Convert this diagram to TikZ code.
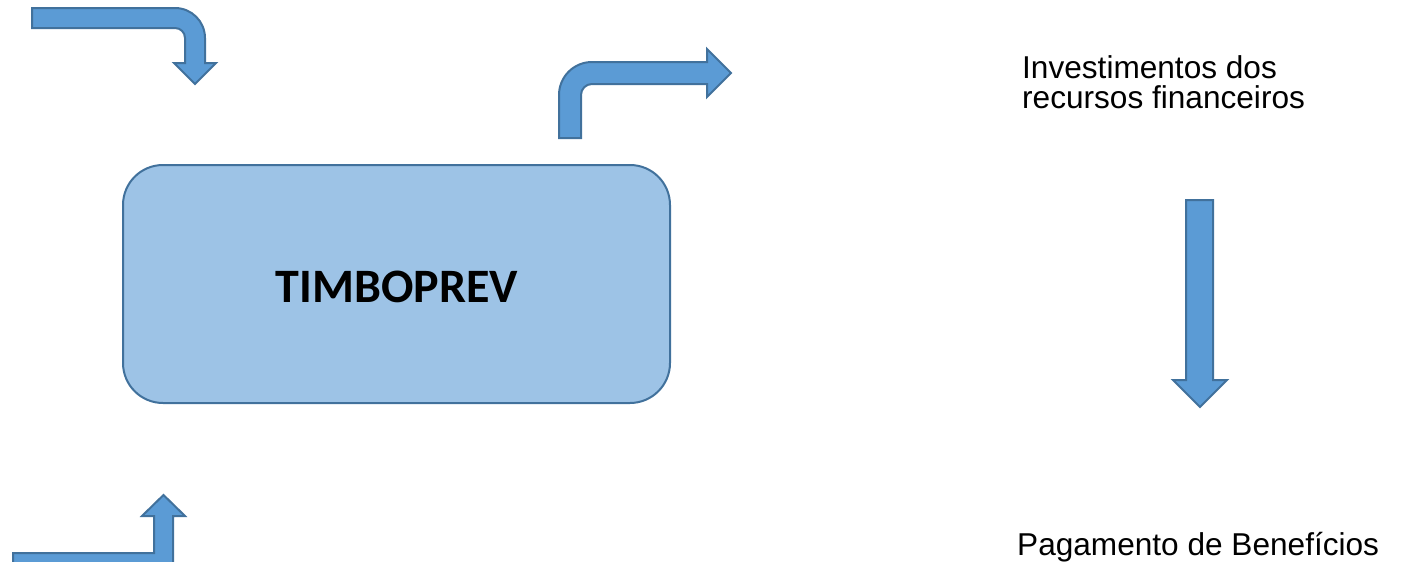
\documentclass[tikz,border=0pt]{standalone}
\usepackage{fontspec}
\setmainfont{Liberation Sans}
\newfontfamily\boxfont{Carlito}
\usepackage{xcolor}
\usepackage{tikz}
\usetikzlibrary{positioning, calc}
\definecolor{arrowblue}{RGB}{91,155,213}
\definecolor{edgeblue}{RGB}{65,113,156}
\definecolor{boxblue}{RGB}{157,195,230}
\tikzstyle{blockarrow} = [fill=arrowblue, draw=edgeblue, line width=2pt, line join=miter]
\tikzstyle{fundbox} = [fill=boxblue, draw=edgeblue, line width=2pt, rounded corners=40pt]
\tikzstyle{label} = [inner sep=0pt, font=\fontsize{31.6}{30}\selectfont]

\begin{document}
\begin{tikzpicture}[x=1pt, y=-1pt]
        \useasboundingbox (0,0) rectangle (1406,562);
        \clip (0,0) rectangle (1406,562);
        % fund box
        \draw[fundbox] (123,165) rectangle (670,403);
        \node (timboprev) at (397,287) {\boxfont\bfseries\fontsize{48}{54}\selectfont TIMBOPREV};
        % incoming, top left
        \draw[blockarrow] (32,8) -- (175,8) arc[start angle=-90, end angle=0, radius=30]
            -- (205,63) -- (216,63) -- (195,84) -- (174,63) -- (185,63) -- (185,38)
            arc[start angle=0, end angle=-90, radius=10] -- (32,28) -- cycle;
        % outgoing, top middle
        \draw[blockarrow] (559,138) -- (559,95) arc[start angle=180, end angle=270, radius=33]
            -- (707,62) -- (707,49) -- (731,73) -- (707,97) -- (707,84) -- (592,84)
            arc[start angle=270, end angle=180, radius=11] -- (581,138) -- cycle;
        % incoming, bottom left
        \draw[blockarrow] (13,553) -- (154,553) -- (154,516) -- (142,516) -- (163.5,495)
            -- (185,516) -- (173,516) -- (173,575) -- (13,575) -- cycle;
        % investments to benefits
        \draw[blockarrow] (1186,200) -- (1213,200) -- (1213,380) -- (1227,380) -- (1200,407)
            -- (1173,380) -- (1186,380) -- cycle;
        % labels
        \node[label, anchor=base west, align=left] (invest) at (1022,108) {Investimentos dos\\recursos financeiros};
        \node[label, anchor=base west] (pagamento) at (1017,555) {Pagamento de Benefícios};
\end{tikzpicture}
\end{document}
